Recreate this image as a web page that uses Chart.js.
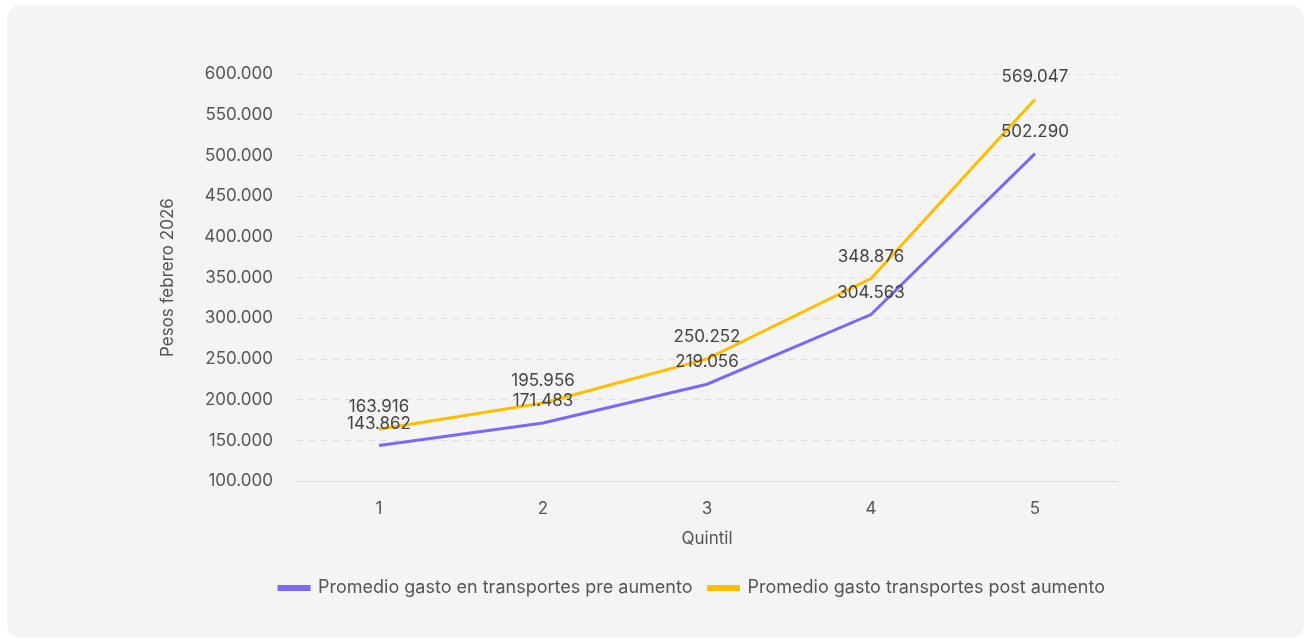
<!DOCTYPE html>
<html>
<head>
<meta charset="utf-8">
<script src="https://cdn.jsdelivr.net/npm/chart.js@4"></script>
<style>
  html, body { margin: 0; padding: 0; background: #ffffff; }
  .card {
    position: absolute; left: 7px; top: 5px; width: 1297px; height: 633px;
    background: #f4f4f4; border-radius: 14px;
  }
  #chart { display: block; }
</style>
</head>
<body>
<div class="card"><canvas id="chart" width="1297" height="633"></canvas></div>
<script>
const quintiles = ["1", "2", "3", "4", "5"];
const preAumento = [143862, 171483, 219056, 304563, 502290];
const postAumento = [163916, 195956, 250252, 348876, 569047];
const seriesNames = ["Promedio gasto en transportes pre aumento", "Promedio gasto transportes post aumento"];

const fmt = (v) => v.toLocaleString("es-CL");
const fontFamily = "Inter, 'Noto Sans', sans-serif";

const pointLabels = {
  id: "pointLabels",
  afterDatasetsDraw(chart) {
    const c = chart.ctx;
    c.save();
    c.font = "17px " + fontFamily;
    c.fillStyle = "#444";
    c.textAlign = "center";
    c.textBaseline = "middle";
    chart.data.datasets.forEach((ds, i) => {
      chart.getDatasetMeta(i).data.forEach((pt, j) => {
        c.fillText(fmt(ds.data[j]), pt.x, pt.y - 22);
      });
    });
    c.restore();
  },
};

const ctx = document.getElementById("chart").getContext("2d");
new Chart(ctx, {
  type: "line",
  data: {
    labels: quintiles,
    datasets: [
      {
        label: seriesNames[0],
        data: preAumento,
        borderColor: "#7b68f5",
        backgroundColor: "#7b68f5",
        borderWidth: 3,
        pointRadius: 0,
        tension: 0,
      },
      {
        label: seriesNames[1],
        data: postAumento,
        borderColor: "#ffbf00",
        backgroundColor: "#ffbf00",
        borderWidth: 3,
        pointRadius: 0,
        tension: 0,
      },
    ],
  },
  options: {
    responsive: false,
    animation: false,
    layout: { padding: { left: 147, right: 74, top: 69, bottom: 31 } },
    plugins: {
      tooltip: { enabled: false },
      legend: {
        position: "bottom",
        labels: {
          font: { family: fontFamily, size: 18 },
          color: "#555",
          boxWidth: 30,
          boxHeight: 3,
          padding: 16,
        },
      },
    },
    scales: {
      x: {
        offset: true,
        grid: { display: false },
        border: { color: "#dcdcdc", width: 1 },
        ticks: { font: { family: fontFamily, size: 17 }, color: "#555", padding: 9 },
        title: {
          display: true,
          text: "Quintil",
          font: { family: fontFamily, size: 17 },
          color: "#555",
          padding: { top: 1, bottom: 14 },
        },
      },
      y: {
        min: 100000,
        max: 600000,
        afterFit: (scale) => { scale.width = 143; },
        ticks: {
          stepSize: 50000,
          font: { family: fontFamily, size: 17 },
          color: "#555",
          padding: 24,
          callback: (v) => fmt(v),
        },
        grid: { color: "#dddddd", drawTicks: false },
        border: { display: false, dash: [6, 6] },
        title: {
          display: true,
          text: "Pesos febrero 2026",
          font: { family: fontFamily, size: 17 },
          color: "#555",
        },
      },
      yRight: {
        position: "right",
        afterFit: (scale) => { scale.width = 113; },
        grid: { display: false },
        ticks: { display: false },
        border: { display: false },
      },
    },
  },
  plugins: [pointLabels],
});
</script>
</body>
</html>
